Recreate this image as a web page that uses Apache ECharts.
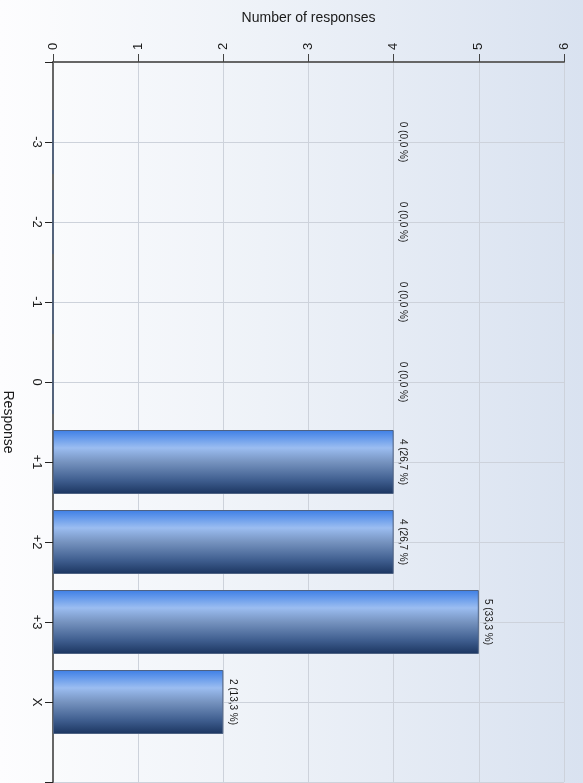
<!DOCTYPE html>
<html>
<head>
<meta charset="utf-8">
<script src="https://cdn.jsdelivr.net/npm/echarts@6/dist/echarts.min.js"></script>
<style>
  html, body { margin: 0; padding: 0; }
  body {
    width: 583px; height: 783px; overflow: hidden;
    background: linear-gradient(to right, #fdfdfe 0%, #eef2f8 45%, #d9e2f0 100%);
  }
  #chart { width: 583px; height: 783px; }
</style>
</head>
<body>
<div id="chart"></div>
<script>
// Response categories and counts
const categories = ['-3', '-2', '-1', '0', '+1', '+2', '+3', 'X'];
const counts = [0, 0, 0, 0, 4, 4, 5, 2];
const valueTicks = [0, 1, 2, 3, 4, 5, 6];

const total = counts.reduce((a, b) => a + b, 0);
const pct = v => (v / total * 100).toFixed(1).replace('.', ',');

// Pad the category axis with an empty slot at each end
const axisCats = [''].concat(categories, ['']);

const barGradient = new echarts.graphic.LinearGradient(0, 0, 0, 1, [
  { offset: 0, color: '#3d7fe6' },
  { offset: 0.28, color: '#9bbdf1' },
  { offset: 0.5, color: '#7693bf' },
  { offset: 0.78, color: '#405f90' },
  { offset: 1, color: '#1b3560' }
]);

const seriesData = [null].concat(counts.map(v => {
  const item = { value: v };
  if (v === 0) {
    item.label = { position: [345, '50%'], distance: 0 };
  }
  return item;
}), [null]);

const chart = echarts.init(document.getElementById('chart'));
chart.setOption({
  animation: false,
  backgroundColor: 'transparent',
  textStyle: { fontFamily: 'Liberation Sans, Arial, sans-serif' },
  grid: { left: 53, top: 62, width: 511, height: 720, containLabel: false, outerBoundsMode: 'none' },
  xAxis: {
    type: 'value',
    position: 'top',
    min: valueTicks[0],
    max: valueTicks[valueTicks.length - 1],
    interval: 1,
    name: 'Number of responses',
    nameLocation: 'middle',
    nameGap: 37,
    nameTextStyle: { fontSize: 14, color: '#1a1a1a' },
    axisLine: { show: true, lineStyle: { color: '#666', width: 2 } },
    axisTick: { show: true, length: 8, lineStyle: { color: '#444' } },
    axisLabel: { rotate: -90, fontSize: 13, color: '#1a1a1a', margin: 12 },
    splitLine: { show: true, lineStyle: { color: '#cdd2db', width: 1 } }
  },
  yAxis: {
    type: 'category',
    inverse: true,
    boundaryGap: false,
    data: axisCats,
    name: 'Response',
    nameLocation: 'middle',
    nameGap: 38,
    nameRotate: -90,
    nameTextStyle: { fontSize: 14, color: '#1a1a1a' },
    axisLine: { show: true, lineStyle: { color: '#666', width: 2 } },
    axisTick: { show: true, length: 8, alignWithLabel: true, lineStyle: { color: '#222' } },
    axisLabel: { rotate: -90, fontSize: 13, color: '#1a1a1a', margin: 10, interval: 0 },
    splitLine: { show: true, lineStyle: { color: '#cdd2db', width: 1 } }
  },
  series: [{
    type: 'bar',
    data: seriesData,
    barWidth: 64,
    itemStyle: { color: barGradient, borderColor: '#4e6283', borderWidth: 1 },
    label: {
      show: true,
      position: 'right',
      distance: 4,
      rotate: -90,
      align: 'center',
      verticalAlign: 'bottom',
      fontSize: 10,
      color: '#1a1a1a',
      formatter: p => p.value + ' (' + pct(p.value) + ' %)'
    }
  }]
});
</script>
</body>
</html>
